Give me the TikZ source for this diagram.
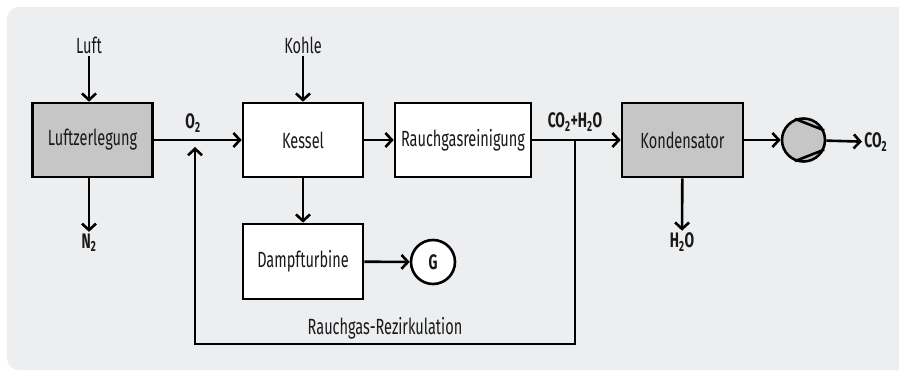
\documentclass[tikz,border=0pt]{standalone}
\usepackage{fontspec}
\setmainfont[FakeStretch=0.66]{Fira Sans}
\usetikzlibrary{arrows.meta}
\definecolor{bggray}{HTML}{EDEEF0}
\definecolor{boxgray}{HTML}{C6C6C6}
\begin{document}
\begin{tikzpicture}[x=1pt,y=-1pt,
    line width=2.6pt,
    >={Straight Barb[length=6.5pt,width=14pt,line width=2.6pt]},
    every node/.style={font=\fontsize{22}{24}\selectfont, text=black!90},
    block/.style={draw, fill=white, minimum width=120pt, minimum height=74pt, inner sep=0pt},
    greyblock/.style={block, fill=boxgray},
    label/.style={inner sep=1pt},
    chem/.style={inner sep=1pt, font=\fontsize{21}{24}\selectfont\bfseries}]
  \useasboundingbox (0,0) rectangle (899,374);
  \fill[bggray, rounded corners=12pt] (7,7) rectangle (920,370);

  \node[greyblock] (LZ) at (92.5,140){Luftzerlegung};
  \node[block] (Kessel) at (303,140){Kessel};
  \node[block, minimum width=136pt] (RGR) at (463,140){Rauchgasreinigung};
  \node[block, minimum height=75pt] (Dampf) at (303,261.5){Dampfturbine};
  \node[greyblock, minimum width=121pt] (Kond) at (682.5,140){Kondensator};
  \node[draw, fill=white, circle, minimum size=44pt, inner sep=0pt, font=\fontsize{21}{24}\selectfont\bfseries] (G) at (433,262){G};
  \node[draw, fill=boxgray, circle, minimum size=43pt, inner sep=0pt] (Verd) at (803.5,140){};

  \node[label] (Luft) at (89,45){Luft};
  \node[label] (Kohle) at (303,45){Kohle};
  \node[chem] (N2) at (89,243){N\textsubscript{2}};
  \node[chem] (H2O) at (682,242){H\textsubscript{2}O};
  \node[chem, anchor=west] (CO2) at (862,142){CO\textsubscript{2}};
  \node[chem] (O2) at (193,123){O\textsubscript{2}};
  \node[chem] (CO2H2O) at (575,122){CO\textsubscript{2}+H\textsubscript{2}O};

  \coordinate (J) at (575,140);
  \coordinate (O) at (195,140);
  \coordinate (R) at (388,344);

  \draw (Verd.112) -- (Verd.25);
  \draw (Verd.-112) -- (Verd.-25);

  \draw (Luft) edge[->] (Luft |- LZ.north);
  \draw (Kohle) edge[->] (Kessel);
  \draw (LZ.south -| N2) edge[->] (N2);
  \draw (LZ) edge[->] (Kessel);
  \draw (Kessel) edge[->] (RGR);
  \draw (RGR) edge[->] (Kond);
  \draw (Kessel) edge[->] (Dampf);
  \draw (Dampf) edge[->] (G);
  \draw (Kond) edge[->] (H2O);
  \draw (Kond) edge[->] (Verd);
  \draw (Verd) edge[->] (CO2);
  \draw[->, shorten >=7pt] (J) -- (J |- R) -- node[label, above=3pt, pos=0.5]{Rauchgas-Rezirkulation} (O |- R) -- (O);
\end{tikzpicture}
\end{document}
